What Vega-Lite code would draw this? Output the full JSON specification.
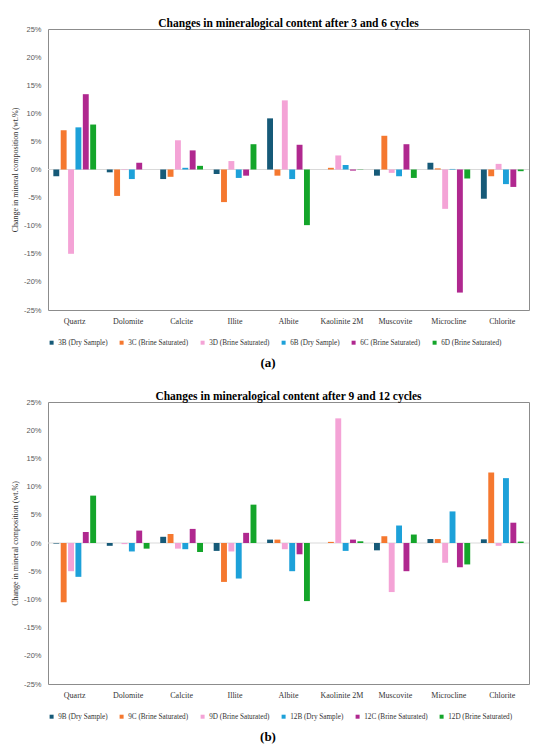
{
  "$schema": "https://vega.github.io/schema/vega-lite/v6.json",
  "background": "white",
  "padding": {"left": 10, "top": 17, "right": 5, "bottom": 0},
  "spacing": 17,
  "datasets": {
    "a": [
      {"mineral": "Quartz", "series": "3B (Dry Sample)", "change": -1.2},
      {"mineral": "Quartz", "series": "3C (Brine Saturated)", "change": 7.0},
      {"mineral": "Quartz", "series": "3D (Brine Saturated)", "change": -15.0},
      {"mineral": "Quartz", "series": "6B (Dry Sample)", "change": 7.5},
      {"mineral": "Quartz", "series": "6C (Brine Saturated)", "change": 13.4},
      {"mineral": "Quartz", "series": "6D (Brine Saturated)", "change": 8.0},
      {"mineral": "Dolomite", "series": "3B (Dry Sample)", "change": -0.5},
      {"mineral": "Dolomite", "series": "3C (Brine Saturated)", "change": -4.7},
      {"mineral": "Dolomite", "series": "3D (Brine Saturated)", "change": -0.1},
      {"mineral": "Dolomite", "series": "6B (Dry Sample)", "change": -1.7},
      {"mineral": "Dolomite", "series": "6C (Brine Saturated)", "change": 1.2},
      {"mineral": "Dolomite", "series": "6D (Brine Saturated)", "change": 0.0},
      {"mineral": "Calcite", "series": "3B (Dry Sample)", "change": -1.7},
      {"mineral": "Calcite", "series": "3C (Brine Saturated)", "change": -1.3},
      {"mineral": "Calcite", "series": "3D (Brine Saturated)", "change": 5.2},
      {"mineral": "Calcite", "series": "6B (Dry Sample)", "change": 0.3},
      {"mineral": "Calcite", "series": "6C (Brine Saturated)", "change": 3.4},
      {"mineral": "Calcite", "series": "6D (Brine Saturated)", "change": 0.65},
      {"mineral": "Illite", "series": "3B (Dry Sample)", "change": -0.8},
      {"mineral": "Illite", "series": "3C (Brine Saturated)", "change": -5.8},
      {"mineral": "Illite", "series": "3D (Brine Saturated)", "change": 1.5},
      {"mineral": "Illite", "series": "6B (Dry Sample)", "change": -1.5},
      {"mineral": "Illite", "series": "6C (Brine Saturated)", "change": -1.1},
      {"mineral": "Illite", "series": "6D (Brine Saturated)", "change": 4.5},
      {"mineral": "Albite", "series": "3B (Dry Sample)", "change": 9.1},
      {"mineral": "Albite", "series": "3C (Brine Saturated)", "change": -1.1},
      {"mineral": "Albite", "series": "3D (Brine Saturated)", "change": 12.3},
      {"mineral": "Albite", "series": "6B (Dry Sample)", "change": -1.7},
      {"mineral": "Albite", "series": "6C (Brine Saturated)", "change": 4.4},
      {"mineral": "Albite", "series": "6D (Brine Saturated)", "change": -9.9},
      {"mineral": "Kaolinite 2M", "series": "3B (Dry Sample)", "change": 0.0},
      {"mineral": "Kaolinite 2M", "series": "3C (Brine Saturated)", "change": 0.3},
      {"mineral": "Kaolinite 2M", "series": "3D (Brine Saturated)", "change": 2.5},
      {"mineral": "Kaolinite 2M", "series": "6B (Dry Sample)", "change": 0.8},
      {"mineral": "Kaolinite 2M", "series": "6C (Brine Saturated)", "change": -0.2},
      {"mineral": "Kaolinite 2M", "series": "6D (Brine Saturated)", "change": -0.05},
      {"mineral": "Muscovite", "series": "3B (Dry Sample)", "change": -1.1},
      {"mineral": "Muscovite", "series": "3C (Brine Saturated)", "change": 6.0},
      {"mineral": "Muscovite", "series": "3D (Brine Saturated)", "change": -0.6},
      {"mineral": "Muscovite", "series": "6B (Dry Sample)", "change": -1.2},
      {"mineral": "Muscovite", "series": "6C (Brine Saturated)", "change": 4.5},
      {"mineral": "Muscovite", "series": "6D (Brine Saturated)", "change": -1.5},
      {"mineral": "Microcline", "series": "3B (Dry Sample)", "change": 1.2},
      {"mineral": "Microcline", "series": "3C (Brine Saturated)", "change": 0.2},
      {"mineral": "Microcline", "series": "3D (Brine Saturated)", "change": -7.0},
      {"mineral": "Microcline", "series": "6B (Dry Sample)", "change": 0.1},
      {"mineral": "Microcline", "series": "6C (Brine Saturated)", "change": -21.9},
      {"mineral": "Microcline", "series": "6D (Brine Saturated)", "change": -1.6},
      {"mineral": "Chlorite", "series": "3B (Dry Sample)", "change": -5.2},
      {"mineral": "Chlorite", "series": "3C (Brine Saturated)", "change": -1.2},
      {"mineral": "Chlorite", "series": "3D (Brine Saturated)", "change": 1.0},
      {"mineral": "Chlorite", "series": "6B (Dry Sample)", "change": -2.6},
      {"mineral": "Chlorite", "series": "6C (Brine Saturated)", "change": -3.1},
      {"mineral": "Chlorite", "series": "6D (Brine Saturated)", "change": -0.3}
    ],
    "b": [
      {"mineral": "Quartz", "series": "9B (Dry Sample)", "change": -0.1},
      {"mineral": "Quartz", "series": "9C (Brine Saturated)", "change": -10.5},
      {"mineral": "Quartz", "series": "9D (Brine Saturated)", "change": -5.0},
      {"mineral": "Quartz", "series": "12B (Dry Sample)", "change": -6.0},
      {"mineral": "Quartz", "series": "12C (Brine Saturated)", "change": 1.95},
      {"mineral": "Quartz", "series": "12D (Brine Saturated)", "change": 8.4},
      {"mineral": "Dolomite", "series": "9B (Dry Sample)", "change": -0.5},
      {"mineral": "Dolomite", "series": "9C (Brine Saturated)", "change": 0.0},
      {"mineral": "Dolomite", "series": "9D (Brine Saturated)", "change": -0.2},
      {"mineral": "Dolomite", "series": "12B (Dry Sample)", "change": -1.5},
      {"mineral": "Dolomite", "series": "12C (Brine Saturated)", "change": 2.2},
      {"mineral": "Dolomite", "series": "12D (Brine Saturated)", "change": -1.0},
      {"mineral": "Calcite", "series": "9B (Dry Sample)", "change": 1.1},
      {"mineral": "Calcite", "series": "9C (Brine Saturated)", "change": 1.6},
      {"mineral": "Calcite", "series": "9D (Brine Saturated)", "change": -1.0},
      {"mineral": "Calcite", "series": "12B (Dry Sample)", "change": -1.1},
      {"mineral": "Calcite", "series": "12C (Brine Saturated)", "change": 2.5},
      {"mineral": "Calcite", "series": "12D (Brine Saturated)", "change": -1.6},
      {"mineral": "Illite", "series": "9B (Dry Sample)", "change": -1.4},
      {"mineral": "Illite", "series": "9C (Brine Saturated)", "change": -6.9},
      {"mineral": "Illite", "series": "9D (Brine Saturated)", "change": -1.5},
      {"mineral": "Illite", "series": "12B (Dry Sample)", "change": -6.3},
      {"mineral": "Illite", "series": "12C (Brine Saturated)", "change": 1.8},
      {"mineral": "Illite", "series": "12D (Brine Saturated)", "change": 6.8},
      {"mineral": "Albite", "series": "9B (Dry Sample)", "change": 0.6},
      {"mineral": "Albite", "series": "9C (Brine Saturated)", "change": 0.6},
      {"mineral": "Albite", "series": "9D (Brine Saturated)", "change": -1.1},
      {"mineral": "Albite", "series": "12B (Dry Sample)", "change": -5.0},
      {"mineral": "Albite", "series": "12C (Brine Saturated)", "change": -2.0},
      {"mineral": "Albite", "series": "12D (Brine Saturated)", "change": -10.3},
      {"mineral": "Kaolinite 2M", "series": "9B (Dry Sample)", "change": 0.0},
      {"mineral": "Kaolinite 2M", "series": "9C (Brine Saturated)", "change": 0.2},
      {"mineral": "Kaolinite 2M", "series": "9D (Brine Saturated)", "change": 22.1},
      {"mineral": "Kaolinite 2M", "series": "12B (Dry Sample)", "change": -1.4},
      {"mineral": "Kaolinite 2M", "series": "12C (Brine Saturated)", "change": 0.6},
      {"mineral": "Kaolinite 2M", "series": "12D (Brine Saturated)", "change": 0.3},
      {"mineral": "Muscovite", "series": "9B (Dry Sample)", "change": -1.3},
      {"mineral": "Muscovite", "series": "9C (Brine Saturated)", "change": 1.2},
      {"mineral": "Muscovite", "series": "9D (Brine Saturated)", "change": -8.7},
      {"mineral": "Muscovite", "series": "12B (Dry Sample)", "change": 3.1},
      {"mineral": "Muscovite", "series": "12C (Brine Saturated)", "change": -5.0},
      {"mineral": "Muscovite", "series": "12D (Brine Saturated)", "change": 1.5},
      {"mineral": "Microcline", "series": "9B (Dry Sample)", "change": 0.7},
      {"mineral": "Microcline", "series": "9C (Brine Saturated)", "change": 0.7},
      {"mineral": "Microcline", "series": "9D (Brine Saturated)", "change": -3.5},
      {"mineral": "Microcline", "series": "12B (Dry Sample)", "change": 5.6},
      {"mineral": "Microcline", "series": "12C (Brine Saturated)", "change": -4.3},
      {"mineral": "Microcline", "series": "12D (Brine Saturated)", "change": -3.8},
      {"mineral": "Chlorite", "series": "9B (Dry Sample)", "change": 0.65},
      {"mineral": "Chlorite", "series": "9C (Brine Saturated)", "change": 12.5},
      {"mineral": "Chlorite", "series": "9D (Brine Saturated)", "change": -0.5},
      {"mineral": "Chlorite", "series": "12B (Dry Sample)", "change": 11.5},
      {"mineral": "Chlorite", "series": "12C (Brine Saturated)", "change": 3.6},
      {"mineral": "Chlorite", "series": "12D (Brine Saturated)", "change": 0.25}
    ]
  },
  "config": {
    "view": {"stroke": "#8c8c8c", "strokeWidth": 1},
    "font": "Liberation Serif",
    "title": {"font": "Liberation Serif", "fontSize": 11.5, "fontWeight": "bold", "color": "#000000", "offset": -4, "anchor": "middle"},
    "axisX": {"domain": false, "ticks": false, "grid": false, "labelAngle": 0, "labelFont": "Liberation Serif", "labelFontSize": 8, "labelColor": "#333333", "labelPadding": 7},
    "axisY": {"domain": false, "ticks": false, "grid": false, "labelOverlap": false, "tickCount": 12, "labelFont": "Liberation Sans", "labelFontSize": 7.5, "labelColor": "#595959", "labelPadding": 7, "titleFont": "Liberation Serif", "titleFontSize": 8, "titleFontWeight": "normal", "titleColor": "#333333", "titlePadding": 4},
    "legend": {"orient": "bottom", "direction": "horizontal", "columns": 6, "title": null, "symbolType": "square", "symbolSize": 16, "symbolStrokeWidth": 0, "labelFont": "Liberation Serif", "labelFontSize": 7.2, "labelColor": "#333333", "columnPadding": 10, "labelOffset": 3, "offset": 14, "padding": 0}
  },
  "resolve": {"scale": {"color": "independent", "x": "independent", "y": "independent", "xOffset": "independent"}, "legend": {"color": "independent"}},
  "vconcat": [
    {
      "spacing": 6,
      "resolve": {"scale": {"color": "independent"}, "legend": {"color": "independent"}},
      "vconcat": [
        {
          "width": 481,
          "height": 281,
          "title": "Changes in mineralogical content after 3 and 6 cycles",
          "layer": [
            {
              "data": {"values": [{}]},
              "mark": {"type": "rule", "color": "#d9d9d9", "strokeWidth": 1},
              "encoding": {"y": {"datum": 0, "type": "quantitative"}}
            },
            {
              "data": {"name": "a"},
              "mark": {"type": "bar"},
              "encoding": {
                "x": {"field": "mineral", "type": "nominal", "title": null, "sort": ["Quartz", "Dolomite", "Calcite", "Illite", "Albite", "Kaolinite 2M", "Muscovite", "Microcline", "Chlorite"], "scale": {"paddingInner": 0.2, "paddingOuter": 0.1}},
                "xOffset": {"field": "series", "type": "nominal", "sort": ["3B (Dry Sample)", "3C (Brine Saturated)", "3D (Brine Saturated)", "6B (Dry Sample)", "6C (Brine Saturated)", "6D (Brine Saturated)"], "scale": {"paddingInner": 0.2}},
                "y": {"field": "change", "type": "quantitative", "title": "Change in mineral composition (wt.%)", "scale": {"domain": [-25, 25], "nice": false}, "axis": {"values": [-25, -20, -15, -10, -5, 0, 5, 10, 15, 20, 25], "tickCount": 12, "labelExpr": "datum.value + '%'"}},
                "color": {"field": "series", "type": "nominal", "scale": {"domain": ["3B (Dry Sample)", "3C (Brine Saturated)", "3D (Brine Saturated)", "6B (Dry Sample)", "6C (Brine Saturated)", "6D (Brine Saturated)"], "range": ["#165a78", "#f5782f", "#f4a3d6", "#1da1d9", "#b0288f", "#14a52a"]}}
              }
            }
          ]
        },
        {
          "width": 440,
          "height": 20,
          "view": {"stroke": null},
          "data": {"values": [{"label": "(a)"}]},
          "mark": {"type": "text", "font": "Liberation Serif", "fontSize": 13, "fontWeight": "bold", "color": "#000000"},
          "encoding": {"text": {"field": "label", "type": "nominal"}}
        }
      ]
    },
    {
      "spacing": 6,
      "resolve": {"scale": {"color": "independent"}, "legend": {"color": "independent"}},
      "vconcat": [
        {
          "width": 481,
          "height": 282,
          "title": "Changes in mineralogical content after 9 and 12 cycles",
          "layer": [
            {
              "data": {"values": [{}]},
              "mark": {"type": "rule", "color": "#d9d9d9", "strokeWidth": 1},
              "encoding": {"y": {"datum": 0, "type": "quantitative"}}
            },
            {
              "data": {"name": "b"},
              "mark": {"type": "bar"},
              "encoding": {
                "x": {"field": "mineral", "type": "nominal", "title": null, "sort": ["Quartz", "Dolomite", "Calcite", "Illite", "Albite", "Kaolinite 2M", "Muscovite", "Microcline", "Chlorite"], "scale": {"paddingInner": 0.2, "paddingOuter": 0.1}},
                "xOffset": {"field": "series", "type": "nominal", "sort": ["9B (Dry Sample)", "9C (Brine Saturated)", "9D (Brine Saturated)", "12B (Dry Sample)", "12C (Brine Saturated)", "12D (Brine Saturated)"], "scale": {"paddingInner": 0.2}},
                "y": {"field": "change", "type": "quantitative", "title": "Change in mineral composition (wt.%)", "scale": {"domain": [-25, 25], "nice": false}, "axis": {"values": [-25, -20, -15, -10, -5, 0, 5, 10, 15, 20, 25], "tickCount": 12, "labelExpr": "datum.value + '%'"}},
                "color": {"field": "series", "type": "nominal", "scale": {"domain": ["9B (Dry Sample)", "9C (Brine Saturated)", "9D (Brine Saturated)", "12B (Dry Sample)", "12C (Brine Saturated)", "12D (Brine Saturated)"], "range": ["#165a78", "#f5782f", "#f4a3d6", "#1da1d9", "#b0288f", "#14a52a"]}}
              }
            }
          ]
        },
        {
          "width": 440,
          "height": 20,
          "view": {"stroke": null},
          "data": {"values": [{"label": "(b)"}]},
          "mark": {"type": "text", "font": "Liberation Serif", "fontSize": 13, "fontWeight": "bold", "color": "#000000"},
          "encoding": {"text": {"field": "label", "type": "nominal"}}
        }
      ]
    }
  ]
}
